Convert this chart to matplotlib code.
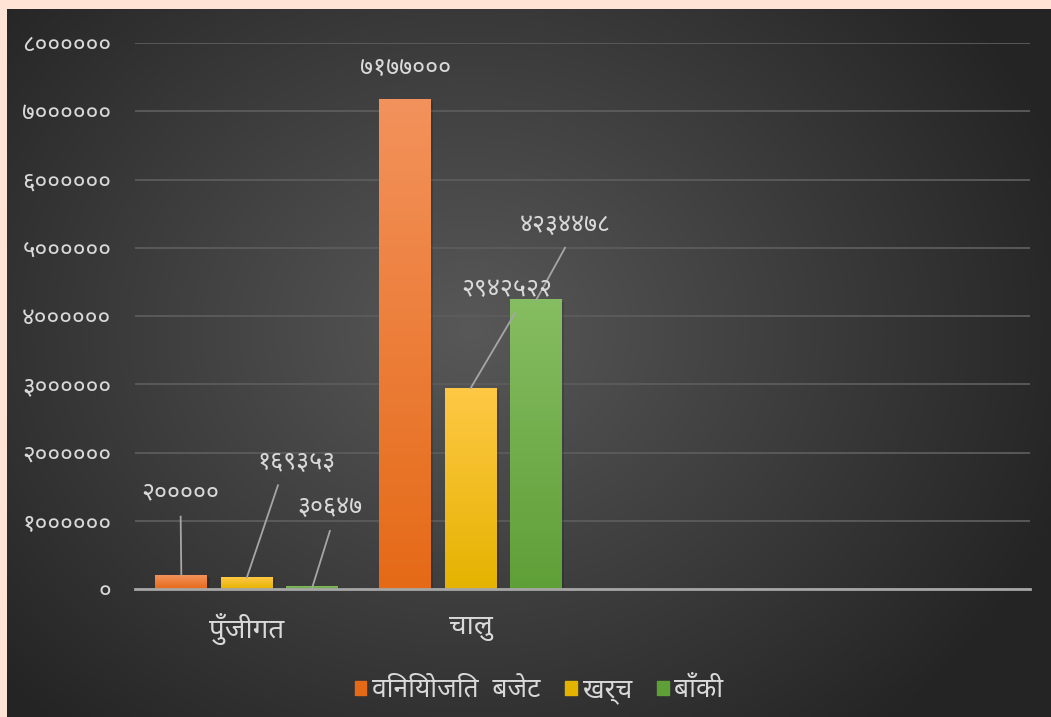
import matplotlib
matplotlib.use("Agg")
import matplotlib.pyplot as plt
import numpy as np
from matplotlib.colors import LinearSegmentedColormap
from matplotlib.patches import Rectangle

plt.rcParams["font.family"] = ["Noto Sans Devanagari", "DejaVu Sans"]

categories = ["पुँजीगत", "चालु", "", ""]
series = ["विनियोजित  बजेट", "खर्च", "बाँकी"]
budget = [200000, 7177000]
spent = [169353, 2942522]
remain = [30647, 4234478]
yticks = [0, 1000000, 2000000, 3000000, 4000000, 5000000, 6000000, 7000000, 8000000]

deva = str.maketrans("0123456789", "०१२३४५६७८९")


def dev(n):
    return str(n).translate(deva)


# top colour, bottom colour of each series
grads = [("#f3925c", "#e56a17"), ("#ffc845", "#e4b300"), ("#86bd62", "#5f9f37")]
# label centre (x, y) and leader end (x, y) or None, per series per category
label_pos = [
    [((-0.296, 1.41e6), (-0.296, 1.06e6)), ((0.707, 7.62e6), None)],
    [((0.224, 1.86e6), (0.139, 1.52e6)), ((1.163, 4.38e6), (1.198, 4.04e6))],
    [((0.371, 1.19e6), (0.371, 0.85e6)), ((1.422, 5.33e6), (1.422, 5.0e6))],
]

W, H = 1051, 717
fig = plt.figure(figsize=(W / 100, H / 100), dpi=100)

# background
bg = fig.add_axes([0, 0, 1, 1], zorder=-10)
yy, xx = np.mgrid[0:H, 0:W]
d = np.sqrt(((xx - 470) / 620.0) ** 2 + ((yy - 330) / 520.0) ** 2)
d = np.clip(d, 0, 1)
lum = 0.345 - 0.2 * d
bg.imshow(np.dstack([lum, lum, lum]), extent=[0, W, H, 0], aspect="auto")
bg.add_patch(Rectangle((0, 0), 7, H, color="#ffe4d6", lw=0))
bg.add_patch(Rectangle((0, 0), W, 9, color="#ffe4d6", lw=0))
bg.set_xlim(0, W)
bg.set_ylim(H, 0)
bg.axis("off")

ax = fig.add_axes([135 / W, (H - 589) / H, (1030 - 135) / W, (589 - 43) / H])
ax.patch.set_alpha(0)
ax.set_xlim(-0.5, len(categories) - 0.5)
ax.set_ylim(0, 8000000)

bw = 0.232
offs = [-0.293, 0, 0.293]
values = [budget, spent, remain]
for s, vals in enumerate(values):
    cmap = LinearSegmentedColormap.from_list("g%d" % s, [grads[s][1], grads[s][0]])
    for c, v in enumerate(vals):
        x = c + offs[s]
        ax.add_patch(Rectangle((x - bw / 2 + 0.01, 0), bw, v - 30000 if v > 60000 else v,
                               color="black", alpha=0.15, lw=0, zorder=2))
        g = np.linspace(0, 1, 256).reshape(-1, 1)
        ax.imshow(g, extent=[x - bw / 2, x + bw / 2, 0, v], origin="lower",
                  aspect="auto", cmap=cmap, zorder=3)
        (tx, ty), le = label_pos[s][c]
        ax.text(tx, ty, dev(v), ha="center", va="center", fontsize=18,
                color="#d9d9d9", zorder=5)
        if le is not None:
            ax.plot([x, le[0]], [v, le[1]], color="#a6a6a6", lw=1.3, zorder=4)

ax.set_xlim(-0.5, len(categories) - 0.5)
ax.set_ylim(0, 8000000)
ax.set_yticks(yticks)
ax.set_yticklabels([dev(t) for t in yticks])
ax.set_xticks(range(len(categories)))
ax.set_xticklabels(categories)
ax.tick_params(axis="y", length=0, pad=17, labelsize=17.5, labelcolor="#d9d9d9")
ax.tick_params(axis="x", length=0, pad=17, labelsize=20, labelcolor="#d9d9d9")
ax.grid(axis="y", color="#5c5c5c", lw=1.3, zorder=0)
ax.set_axisbelow(True)
for sp in ["top", "right", "left"]:
    ax.spines[sp].set_visible(False)
ax.spines["bottom"].set_color("#a6a6a6")
ax.spines["bottom"].set_linewidth(2)
ax.spines["bottom"].set_zorder(6)

handles = [Rectangle((0, 0), 1, 1, color=grads[s][1]) for s in range(3)]
leg = fig.legend(handles, series, loc="center", bbox_to_anchor=(539 / W, (H - 690) / H),
                 ncol=3, frameon=False, fontsize=19, handlelength=0.45, handleheight=0.45,
                 handletextpad=0.22, columnspacing=0.93)
for t in leg.get_texts():
    t.set_color("#d9d9d9")

fig.savefig("out.png", dpi=100)
